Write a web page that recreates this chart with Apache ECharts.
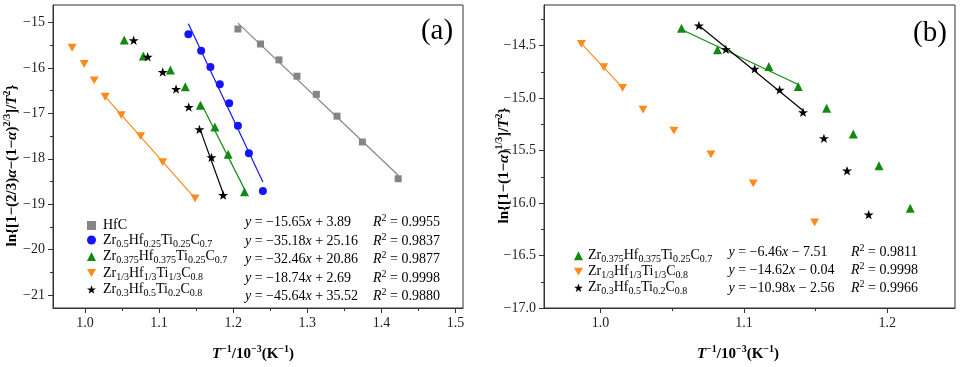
<!DOCTYPE html>
<html><head><meta charset="utf-8">
<script src="https://cdn.jsdelivr.net/npm/echarts@6/dist/echarts.min.js"></script>
<style>html,body{margin:0;padding:0;background:#fff}#c{width:960px;height:367px}</style>
</head><body><div id="c"></div>
<script>
// ---------- Panel (a) data ----------
const aHfC_x   = [1.2064, 1.2369, 1.2618, 1.2861, 1.3122, 1.3401, 1.3743, 1.4226];
const aHfC_y   = [-15.139, -15.47, -15.82, -16.18, -16.58, -17.06, -17.63, -18.44];
const aBlue_x  = [1.1396, 1.1568, 1.1693, 1.182, 1.1946, 1.2064, 1.2212, 1.2401];
const aBlue_y  = [-15.256, -15.618, -15.977, -16.359, -16.778, -17.272, -17.881, -18.713];
const aGreen_x = [1.0531, 1.0788, 1.1153, 1.1355, 1.1558, 1.1753, 1.1932, 1.2153];
const aGreen_y = [-15.382, -15.735, -16.043, -16.412, -16.822, -17.301, -17.903, -18.728];
const aOrange_x= [0.9828, 0.9991, 1.0126, 1.0274, 1.0491, 1.0751, 1.1049, 1.1486];
const aOrange_y= [-15.552, -15.911, -16.271, -16.632, -17.036, -17.499, -18.073, -18.874];
const aBlack_x = [1.0658, 1.0847, 1.105, 1.123, 1.1401, 1.1545, 1.1707, 1.1865];
const aBlack_y = [-15.388, -15.75, -16.088, -16.463, -16.86, -17.352, -17.969, -18.801];
// fitted index ranges [from, to]
const aFitRanges = [[0, 7], [0, 7], [4, 7], [3, 7], [5, 7]];
const aSlopes     = [-15.65, -35.18, -32.46, -18.74, -45.64];
const aIntercepts = [3.89, 25.16, 20.86, 2.69, 35.52];
const aR2         = ['0.9955', '0.9837', '0.9877', '0.9998', '0.9880'];

// ---------- Panel (b) data ----------
const bGreen_x = [1.0565, 1.0816, 1.1174, 1.1379, 1.1577, 1.1763, 1.1942, 1.216];
const bGreen_y = [-14.335, -14.541, -14.7, -14.891, -15.098, -15.342, -15.644, -16.051];
const bOrange_x= [0.9867, 1.0023, 1.0154, 1.0297, 1.0512, 1.077, 1.1065, 1.1493];
const bOrange_y= [-14.484, -14.707, -14.903, -15.11, -15.31, -15.536, -15.813, -16.184];
const bBlack_x = [1.0686, 1.0874, 1.1075, 1.1249, 1.1412, 1.1558, 1.1719, 1.187];
const bBlack_y = [-14.309, -14.535, -14.722, -14.922, -15.136, -15.384, -15.692, -16.111];
const bFitRanges = [[0, 3], [0, 2], [0, 4]];
const bSlopes     = [-6.46, -14.62, -10.98];
const bIntercepts = [-7.51, -0.04, -2.56];
const bR2         = ['0.9811', '0.9998', '0.9966'];

// ---------- ticks ----------
const aXMajor = [1.0, 1.1, 1.2, 1.3, 1.4, 1.5];
const aXMinor = [1.05, 1.15, 1.25, 1.35, 1.45];
const aYMajor = [-21, -20, -19, -18, -17, -16, -15];
const aYMinor = [-20.5, -19.5, -18.5, -17.5, -16.5, -15.5];
const bXMajor = [1.0, 1.1, 1.2];
const bXMinor = [1.05, 1.15];
const bYMajor = [-17.0, -16.5, -16.0, -15.5, -15.0, -14.5];
const bYMinor = [-16.75, -16.25, -15.75, -15.25, -14.75, -14.25];

// ---------- names ----------
const legendNames = {
  HfC: '{n|HfC}',
  Blue: '{n|Zr}{s|0.5}{n|Hf}{s|0.25}{n|Ti}{s|0.25}{n|C}{s|0.7}',
  Green: '{n|Zr}{s|0.375}{n|Hf}{s|0.375}{n|Ti}{s|0.25}{n|C}{s|0.7}',
  Orange: '{n|Zr}{s|1/3}{n|Hf}{s|1/3}{n|Ti}{s|1/3}{n|C}{s|0.8}',
  Black: '{n|Zr}{s|0.3}{n|Hf}{s|0.5}{n|Ti}{s|0.2}{n|C}{s|0.8}'
};

const FONT = '"Liberation Serif", "Times New Roman", serif';
const C = { HfC: '#858585', Blue: '#1414ff', Green: '#128a12', Orange: '#ff8a1c', Black: '#000000' };
const STAR = 'path://M50,0 L61.8,35.1 L98.1,35.1 L68.8,56.7 L79.4,90.5 L50,69.6 L20.6,90.5 L31.2,56.7 L1.9,35.1 L38.2,35.1 Z';
const DOWN = 'path://M0,0 L100,0 L50,87 Z';

function zip(xs, ys) { return xs.map((x, i) => [x, ys[i]]); }
function regress(xs, ys, r) {
  let n = 0, sx = 0, sy = 0, sxx = 0, sxy = 0;
  for (let i = r[0]; i <= r[1]; i++) { n++; sx += xs[i]; sy += ys[i]; sxx += xs[i] * xs[i]; sxy += xs[i] * ys[i]; }
  const m = (n * sxy - sx * sy) / (n * sxx - sx * sx), b = (sy - m * sx) / n;
  return [[xs[r[0]], m * xs[r[0]] + b], [xs[r[1]], m * xs[r[1]] + b]];
}
const minus = s => String(s).replace('-', '\u2212');

const richLegend = {
  n: { fontFamily: FONT, fontSize: 14, lineHeight: 18, color: '#000', verticalAlign: 'middle' },
  s: { fontFamily: FONT, fontSize: 10, lineHeight: 8, color: '#000', verticalAlign: 'bottom' },
  g: { fontFamily: FONT, fontSize: 14, lineHeight: 18, width: 2, verticalAlign: 'middle' }
};
const richEq = {
  t: { fontFamily: FONT, fontSize: 14, lineHeight: 18, fill: '#000', color: '#000', verticalAlign: 'middle' },
  i: { fontFamily: FONT, fontSize: 14, lineHeight: 18, fontStyle: 'italic', fill: '#000', color: '#000', verticalAlign: 'middle' },
  sp: { fontFamily: FONT, fontSize: 10, lineHeight: 9, fill: '#000', color: '#000', verticalAlign: 'top' }
};
function richName(gap) {
  return {
    b: { fontFamily: FONT, fontSize: 15, fontWeight: 'bold', lineHeight: 20, color: '#000', verticalAlign: 'middle' },
    bi: { fontFamily: FONT, fontSize: 15, fontWeight: 'bold', fontStyle: 'italic', lineHeight: 20, color: '#000', verticalAlign: 'middle' },
    sp: { fontFamily: FONT, fontSize: 10, fontWeight: 'bold', lineHeight: 10, color: '#000', verticalAlign: 'top' },
    gap: { fontFamily: FONT, fontSize: 15, lineHeight: 20, width: gap, color: 'rgba(0,0,0,0)', verticalAlign: 'middle' }
  };
}

function eqText(m, b) {
  const bs = b < 0 ? ' \u2212 ' + Math.abs(b).toFixed(2) : ' + ' + b.toFixed(2);
  return '{i|y}{t| = ' + minus(m.toFixed(2)) + '}{i|x}{t|' + bs + '}';
}
function r2Text(r) { return '{i|R}{sp|2}{t| = ' + r + '}'; }

const xNameRich = '{bi|T}{sp|\u22121}{b|/10}{sp|\u22123}{b|(K}{sp|\u22121}{b|)}{gap| }';
const aYName = '{b|ln{[1\u2212(2/3)}{bi|\u03b1}{b|\u2212(1\u2212}{bi|\u03b1}{b|)}{sp|2/3}{b|]/}{bi|T}{sp|2}{b|\u007d}{gap| }';
const bYName = '{b|ln{[1\u2212(1\u2212}{bi|\u03b1}{b|)}{sp|1/3}{b|]/}{bi|T}{sp|2}{b|\u007d}{gap| }';

const axisCol = '#333';
function nameStyle(gap) {
  return { fontFamily: FONT, fontSize: 15, fontWeight: 'bold', color: '#000', lineHeight: 20, rich: richName(gap) };
}
function mainAxis(dim, grid, min, max, majors, fmt, name, extra) {
  return Object.assign({
    type: 'value', gridIndex: grid, min: min, max: max,
    position: dim === 'x' ? 'bottom' : 'left',
    axisLine: { show: true, lineStyle: { color: axisCol, width: 1 } },
    axisTick: { show: true, inside: false, length: 5, customValues: majors, lineStyle: { color: axisCol, width: 1 } },
    minorTick: { show: false },
    axisLabel: { customValues: majors, formatter: fmt, fontFamily: FONT, fontSize: 14, color: '#222', margin: 8 },
    splitLine: { show: false },
    name: name, nameLocation: 'middle', nameMoveOverlap: false
  }, extra || {});
}
function minorAxis(dim, grid, min, max, minors) {
  return {
    type: 'value', gridIndex: grid, min: min, max: max,
    position: dim === 'x' ? 'bottom' : 'left', offset: 0,
    axisLine: { show: false },
    axisTick: { show: true, inside: false, length: 3, customValues: minors, lineStyle: { color: axisCol, width: 1 } },
    axisLabel: { show: false }, splitLine: { show: false }
  };
}
const fx = v => v.toFixed(1);
const fya = v => minus(Math.round(v));
const fyb = v => minus(v.toFixed(1));

const aSeries = [
  { key: 'HfC', xs: aHfC_x, ys: aHfC_y, symbol: 'rect', size: 7 },
  { key: 'Blue', xs: aBlue_x, ys: aBlue_y, symbol: 'circle', size: 8 },
  { key: 'Green', xs: aGreen_x, ys: aGreen_y, symbol: 'triangle', size: 9 },
  { key: 'Orange', xs: aOrange_x, ys: aOrange_y, symbol: DOWN, size: 9 },
  { key: 'Black', xs: aBlack_x, ys: aBlack_y, symbol: STAR, size: 10 }
];
const bSeries = [
  { key: 'Green', xs: bGreen_x, ys: bGreen_y, symbol: 'triangle', size: 9 },
  { key: 'Orange', xs: bOrange_x, ys: bOrange_y, symbol: DOWN, size: 9 },
  { key: 'Black', xs: bBlack_x, ys: bBlack_y, symbol: STAR, size: 10 }
];

const series = [];
function addPanel(list, ranges, prefix, xi, yi) {
  list.forEach((s, i) => {
    series.push({
      type: 'line', xAxisIndex: xi, yAxisIndex: yi, data: regress(s.xs, s.ys, ranges[i]),
      symbol: 'none', showSymbol: false, silent: true, z: 2,
      lineStyle: { color: C[s.key], width: 1.2 }, itemStyle: { color: C[s.key] }
    });
  });
  list.forEach(s => {
    series.push({
      type: 'scatter', name: prefix + s.key, xAxisIndex: xi, yAxisIndex: yi,
      data: zip(s.xs, s.ys), symbol: s.symbol, symbolSize: s.size, symbolKeepAspect: true,
      itemStyle: { color: C[s.key], opacity: 1 }, z: 3
    });
  });
}
addPanel(aSeries, aFitRanges, 'a', 0, 0);
addPanel(bSeries, bFitRanges, 'b', 2, 2);

const graphics = [];
const aRowY = [222.5, 241, 259.5, 278, 296.5];
const bRowY = [252.7, 270.7, 288.7];
aSlopes.forEach((m, i) => {
  graphics.push({ type: 'text', x: 245, y: aRowY[i], style: { text: eqText(m, aIntercepts[i]), rich: richEq, verticalAlign: 'middle', fill: '#000' } });
  graphics.push({ type: 'text', x: 373, y: aRowY[i], style: { text: r2Text(aR2[i]), rich: richEq, verticalAlign: 'middle', fill: '#000' } });
});
bSlopes.forEach((m, i) => {
  graphics.push({ type: 'text', x: 728.5, y: bRowY[i], style: { text: eqText(m, bIntercepts[i]), rich: richEq, verticalAlign: 'middle', fill: '#000' } });
  graphics.push({ type: 'text', x: 851, y: bRowY[i], style: { text: r2Text(bR2[i]), rich: richEq, verticalAlign: 'middle', fill: '#000' } });
});
graphics.push({ type: 'text', x: 437, y: 31, style: { text: '(a)', font: '29px "Liberation Serif"', fill: '#000', align: 'center', verticalAlign: 'middle' } });
graphics.push({ type: 'text', x: 930, y: 33, style: { text: '(b)', font: '29px "Liberation Serif"', fill: '#000', align: 'center', verticalAlign: 'middle' } });

const legendBase = {
  orient: 'vertical', itemWidth: 9, itemHeight: 9, selectedMode: false, padding: [5, 0, 5, 0],
  textStyle: { fontFamily: FONT, fontSize: 14, color: '#000', rich: richLegend }
};

const option = {
  animation: false,
  backgroundColor: '#fff',
  textStyle: { fontFamily: FONT },
  grid: [
    { left: 53, top: 5, width: 410, height: 303, show: true, borderColor: axisCol, borderWidth: 1, backgroundColor: 'transparent', outerBoundsMode: 'none', containLabel: false },
    { left: 544, top: 5, width: 411, height: 303, show: true, borderColor: axisCol, borderWidth: 1, backgroundColor: 'transparent', outerBoundsMode: 'none', containLabel: false }
  ],
  xAxis: [
    mainAxis('x', 0, 0.957, 1.51, aXMajor, fx, xNameRich, { nameGap: 36, nameTextStyle: nameStyle(10) }),
    minorAxis('x', 0, 0.957, 1.51, aXMinor),
    mainAxis('x', 1, 0.9606, 1.2472, bXMajor, fx, xNameRich, { nameGap: 36, nameTextStyle: nameStyle(23) }),
    minorAxis('x', 1, 0.9606, 1.2472, bXMinor)
  ],
  yAxis: [
    mainAxis('y', 0, -21.29, -14.61, aYMajor, fya, aYName, { nameGap: 31, nameRotate: 90, nameTextStyle: nameStyle(18) }),
    minorAxis('y', 0, -21.29, -14.61, aYMinor),
    mainAxis('y', 1, -17.0, -14.114, bYMajor, fyb, bYName, { nameGap: 30, nameRotate: 90, nameTextStyle: nameStyle(18) }),
    minorAxis('y', 1, -17.0, -14.114, bYMinor)
  ],
  legend: [
    Object.assign({}, legendBase, { left: 87, top: 213.5, itemGap: 0.5, data: aSeries.map(s => 'a' + s.key),
      formatter: name => '{g| }' + legendNames[name.slice(1)] }),
    Object.assign({}, legendBase, { left: 574, top: 243.7, itemGap: 0, data: bSeries.map(s => 'b' + s.key),
      formatter: name => legendNames[name.slice(1)] })
  ],
  graphic: graphics,
  series: series
};
const chart = echarts.init(document.getElementById('c'), null, { renderer: 'canvas' });
chart.setOption(option);
</script>
</body></html>
